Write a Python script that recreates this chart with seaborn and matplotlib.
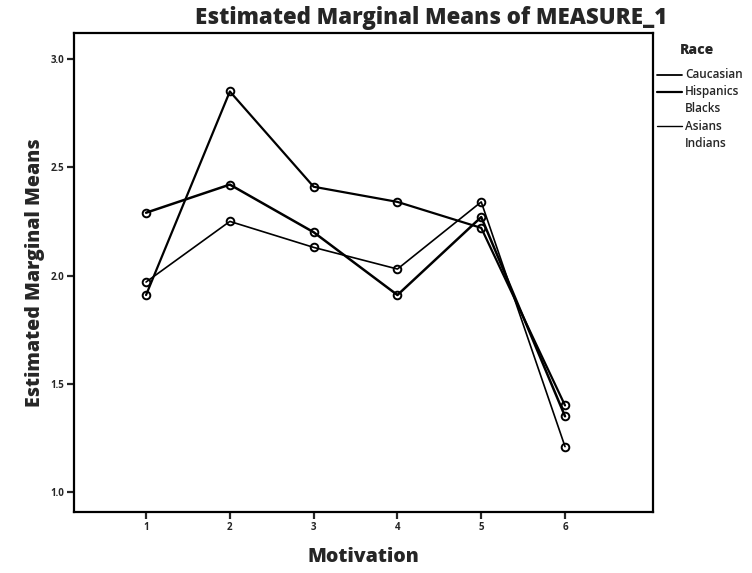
import matplotlib
matplotlib.use("Agg")
import matplotlib.pyplot as plt
import seaborn as sns
import pandas as pd
from matplotlib.lines import Line2D

motivation = [1, 2, 3, 4, 5, 6]
races = ["Caucasian", "Hispanics", "Blacks", "Asians", "Indians"]
caucasian = [1.91, 2.85, 2.41, 2.34, 2.22, 1.40]
hispanics = [2.29, 2.42, 2.20, 1.91, 2.27, 1.35]
asians = [1.97, 2.25, 2.13, 2.03, 2.34, 1.21]
y_ticks = [1.0, 1.5, 2.0, 2.5, 3.0]
y_tick_labels = ["1.0", "1.5", "2.0", "2.5", "3.0"]

series = {"Caucasian": caucasian, "Hispanics": hispanics, "Asians": asians}
widths = {"Caucasian": 1.6, "Hispanics": 1.8, "Asians": 1.2}

rows = []
for race, vals in series.items():
    for m, v in zip(motivation, vals):
        rows.append({"Motivation": m, "Race": race, "Mean": v})
df = pd.DataFrame(rows)

sns.set_style("white")
plt.rcParams["font.family"] = ["Open Sans", "DejaVu Sans"]

fig = plt.figure(figsize=(7.52, 5.73), dpi=100)
ax = fig.add_axes([74 / 752, 1 - 512 / 573, (653 - 74) / 752, (512 - 33) / 573])

for race in series:
    sub = df[df["Race"] == race]
    sns.lineplot(data=sub, x="Motivation", y="Mean", ax=ax, color="black",
                 linewidth=widths[race], marker="o", markersize=5.5,
                 markerfacecolor="none", markeredgecolor="black",
                 markeredgewidth=1.4, legend=False)

ax.set_xlim(0.14, 7.05)
ax.set_ylim(0.908, 3.12)
ax.set_xticks(motivation)
ax.set_xticklabels([str(m) for m in motivation], fontsize=7, fontweight="bold")
ax.set_yticks(y_ticks)
ax.set_yticklabels(y_tick_labels, fontsize=7, fontweight="bold")
ax.tick_params(axis="both", direction="out", length=5, width=1.6, pad=2,
               left=True, bottom=True)
for s in ax.spines.values():
    s.set_visible(True)
    s.set_linewidth(1.6)
    s.set_color("black")

ax.set_xlabel("Motivation", fontsize=14, fontweight="heavy", labelpad=10)
ax.set_ylabel("Estimated Marginal Means", fontsize=14, fontweight="heavy", labelpad=4)

fig.text(431 / 752, 1 - 18 / 573, "Estimated Marginal Means of MEASURE_1",
         ha="center", va="center", fontsize=16, fontweight="heavy")

# legend
fig.text(697 / 752, 1 - 50 / 573, "Race", ha="center", va="center",
         fontsize=10, fontweight="heavy")
leg_y = [75, 92, 109, 126, 143]
leg_w = {"Caucasian": 1.3, "Hispanics": 1.6, "Blacks": 0, "Asians": 1.0, "Indians": 0}
for race, yy in zip(races, leg_y):
    yf = 1 - yy / 573
    if leg_w[race] > 0:
        fig.add_artist(Line2D([657 / 752, 682 / 752], [yf, yf], color="black",
                              linewidth=leg_w[race]))
    fig.text(685 / 752, yf, race, ha="left", va="center", fontsize=8.5,
             fontweight="semibold")

fig.savefig("out.png", dpi=100)
